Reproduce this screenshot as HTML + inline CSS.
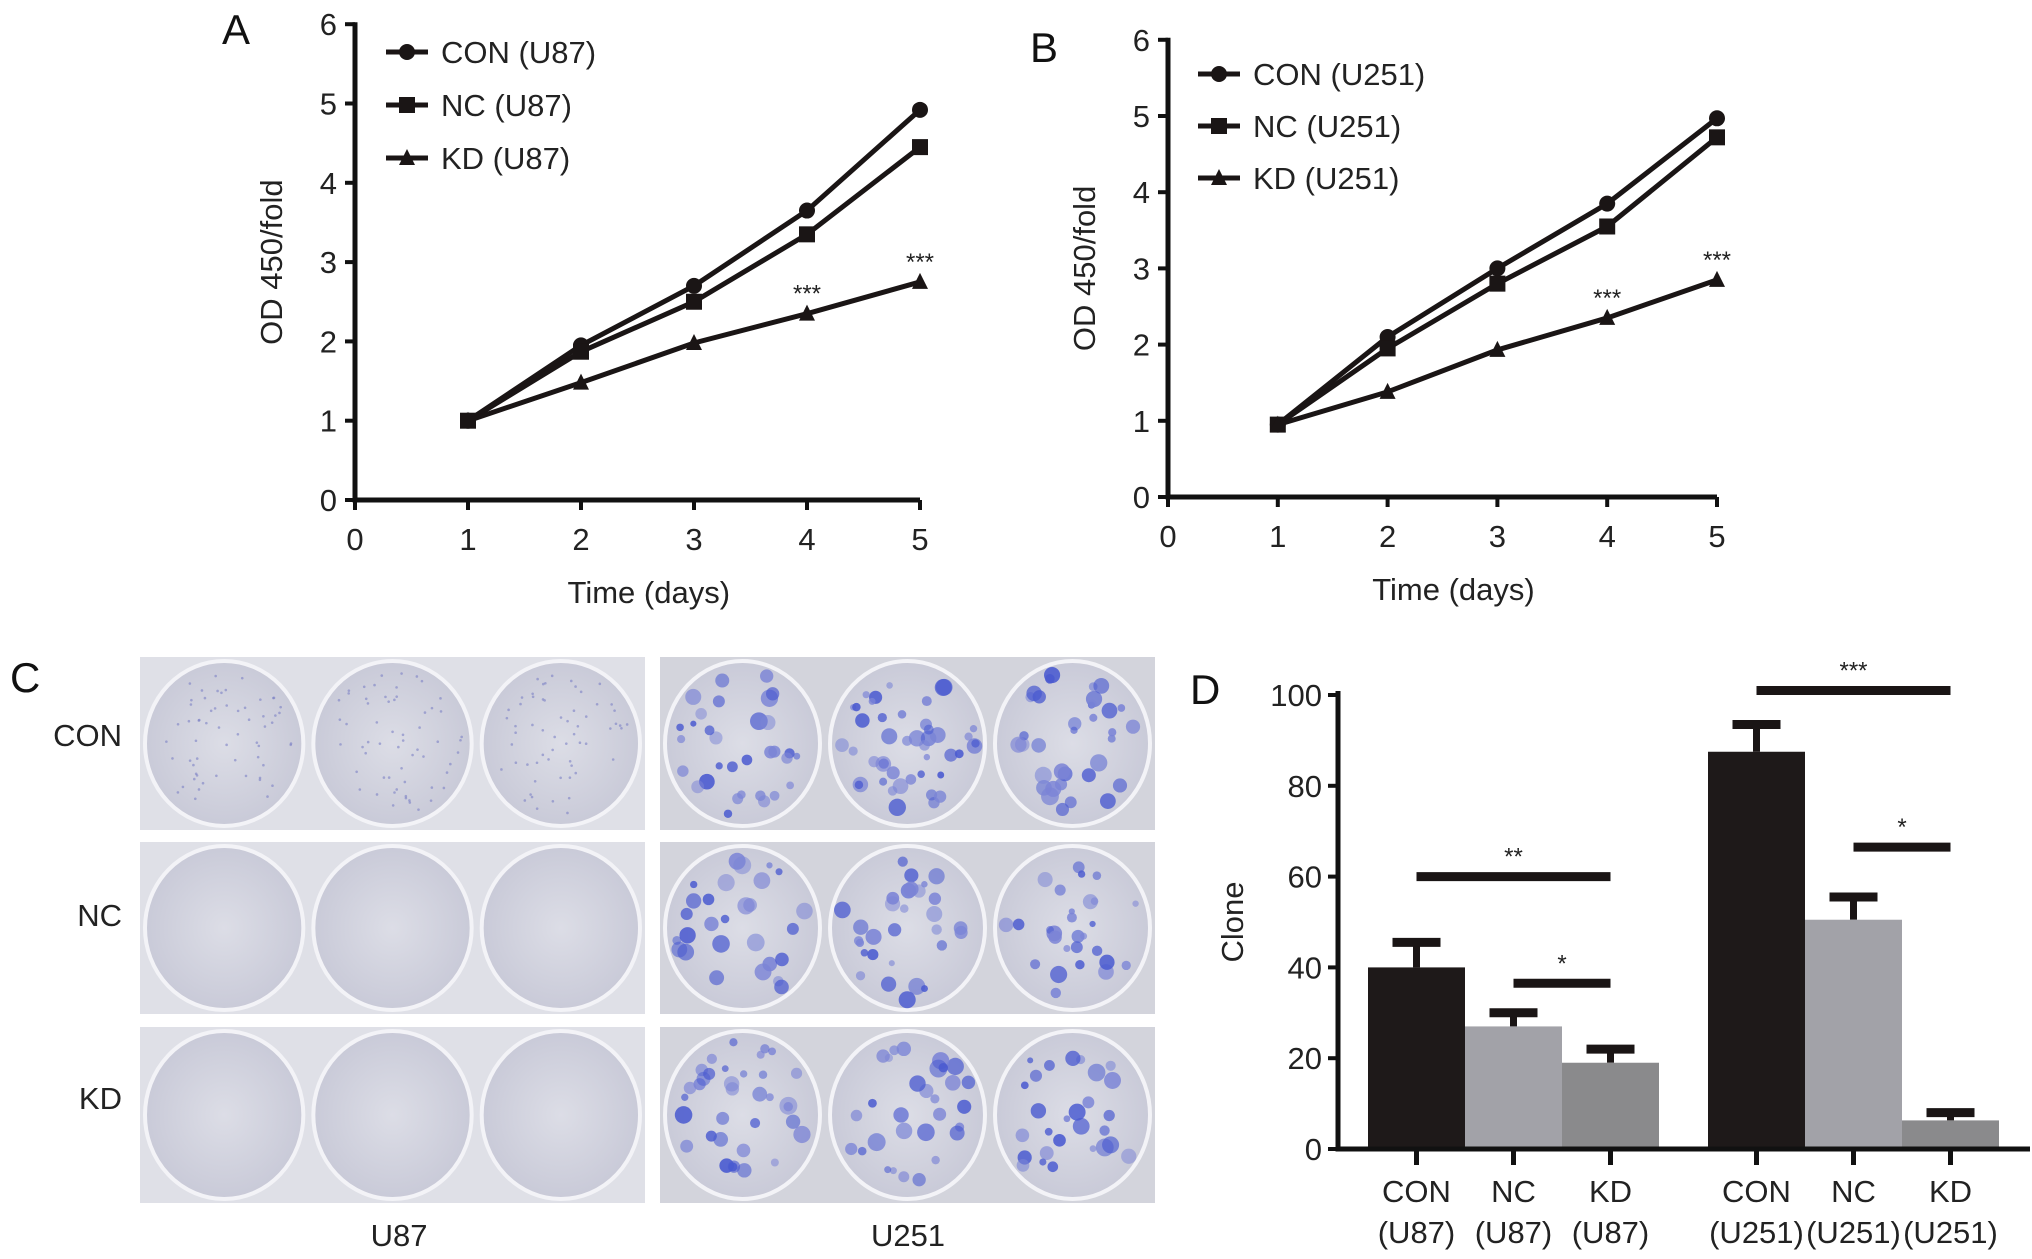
<!DOCTYPE html>
<html><head><meta charset="utf-8"><style>
html,body{margin:0;padding:0;background:#fff;}
svg{display:block;font-family:"Liberation Sans",Arial,sans-serif;}
</style></head><body>
<svg id="fig" width="2032" height="1259" viewBox="0 0 2032 1259" xmlns="http://www.w3.org/2000/svg">
<rect width="2032" height="1259" fill="#fff"/>
<g id="pA"></g>
<g id="pB"></g>
<g id="pC"></g>
<g id="pD"></g>
</svg>
<script>
const days = [1,2,3,4,5];
const aCON = [1,1.95,2.7,3.65,4.92];
const aNC = [1,1.87,2.5,3.35,4.45];
const aKD = [1,1.48,1.98,2.35,2.75];
const bCON = [0.95,2.1,3.0,3.85,4.97];
const bNC = [0.95,1.95,2.8,3.55,4.72];
const bKD = [0.95,1.38,1.93,2.35,2.85];
const xTicks = [0,1,2,3,4,5];
const yTicks = [0,1,2,3,4,5,6];
const dCats = ["CON|(U87)","NC|(U87)","KD|(U87)","CON|(U251)","NC|(U251)","KD|(U251)"];
const dVals = [40,27,19,87.5,50.5,6.3];
const dErr = [45.5,30,22,93.5,55.5,8];
const dTicks = [0,20,40,60,80,100];

const NS="http://www.w3.org/2000/svg";
function mk(p,tag,at,txt){const e=document.createElementNS(NS,tag);for(const k in at)e.setAttribute(k,at[k]);if(txt!==undefined)e.textContent=txt;p.appendChild(e);return e;}

function line(g,o,series,names){
  const X=v=>o.x0+v*o.dx, Y=v=>o.y0-v*o.dy;
  // axes
  let ax=mk(g,'path',{d:`M${o.x0} ${o.y0-6*o.dy-2}V${o.y0}H${X(5)}`,stroke:'#111',fill:'none','stroke-width':5});
  
  yTicks.forEach(t=>{mk(g,'line',{x1:o.x0-10,x2:o.x0,y1:Y(t),y2:Y(t),stroke:'#111','stroke-width':4});
    let tl=mk(g,'text',{x:o.x0-18,y:Y(t)+11,'text-anchor':'end','font-size':31,fill:'#222'},t);
    });
  xTicks.forEach(t=>{mk(g,'line',{x1:X(t),x2:X(t),y1:o.y0,y2:o.y0+10,stroke:'#111','stroke-width':4});
    let tl=mk(g,'text',{x:X(t),y:o.y0+50,'text-anchor':'middle','font-size':31,fill:'#222'},t);
    });
  let xt=mk(g,'text',{x:X(2.6),y:o.y0+103,'text-anchor':'middle','font-size':31,fill:'#222'},'Time (days)');
  
  let yt=mk(g,'text',{transform:`translate(${o.x0-73},${Y(3)}) rotate(-90)`,'text-anchor':'middle','font-size':31,fill:'#222'},'OD 450/fold');
  
  const shapes=['circle','square','triangle'];
  series.forEach((s,i)=>{
    let pl=mk(g,'polyline',{points:days.map((d,j)=>X(d)+','+Y(s[j])).join(' '),fill:'none',stroke:'#1a1515','stroke-width':5});
    
    days.forEach((d,j)=>marker(g,shapes[i],X(d),Y(s[j])));
  });
  // stars
  [4,5].forEach((d,k)=>{let st=mk(g,'text',{x:X(d),y:Y(series[2][k+3])-12,'text-anchor':'middle','font-size':24,fill:'#222'},'***');
    });
  // legend
  names.forEach((n,i)=>{const ly=o.ly+i*o.lsp;
    const lg=mk(g,'g',{});
    mk(lg,'line',{x1:o.lx,x2:o.lx+42,y1:ly,y2:ly,stroke:'#1a1515','stroke-width':5});
    marker(lg,shapes[i],o.lx+21,ly);
    mk(lg,'text',{x:o.lx+55,y:ly+11,'font-size':31,fill:'#222'},n);});
  let L=mk(g,'text',{x:o.letX,y:o.letY,'font-size':42,fill:'#111'},o.letter);
  
}
function marker(g,s,x,y){
  let m;
  if(s==='circle')m=mk(g,'circle',{cx:x,cy:y,r:8,fill:'#1a1515'});
  else if(s==='square')m=mk(g,'rect',{x:x-8,y:y-8,width:16,height:16,fill:'#1a1515'});
  else m=mk(g,'path',{d:`M${x} ${y-9}L${x+8} ${y+7}L${x-8} ${y+7}Z`,fill:'#1a1515'});
  
}
line(document.getElementById('pA'),{x0:355,y0:500,dx:113,dy:79.3,lx:386,ly:52,lsp:53,letter:'A',letX:222,letY:44},[aCON,aNC,aKD],['CON (U87)','NC (U87)','KD (U87)']);
line(document.getElementById('pB'),{x0:1168,y0:497,dx:109.8,dy:76.2,lx:1198,ly:74,lsp:52,letter:'B',letX:1030,letY:62},[bCON,bNC,bKD],['CON (U251)','NC (U251)','KD (U251)']);

// Panel C (photo imitation)
(function(){
  const g=document.getElementById('pC');
  const defs=mk(g,'defs',{});
  const rg=mk(defs,'radialGradient',{id:'dish'});
  mk(rg,'stop',{offset:'0%','stop-color':'#dcdde6'});mk(rg,'stop',{offset:'100%','stop-color':'#c9cad8'});
  let seed=7;const rnd=()=>{seed=(seed*16807)%2147483647;return seed/2147483647;};
  const blocks=[{x:140,w:505,cols:140},{x:660,w:495}];
  const rows=[[657,830],[842,1014],[1027,1203]];
  const density=[[0,0,0],[30,55,35],[0,0,0]];
  const dens2=[[32,45,35],[28,30,28],[35,30,28]];
  blocks.forEach((b,bi)=>rows.forEach((r,ri)=>{
    const bg=mk(g,'rect',{x:b.x,y:r[0],width:b.w,height:r[1]-r[0],fill:bi? '#d3d4dc':'#dfe0e7'});
    
    for(let k=0;k<3;k++){
      const cx=b.x+b.w*(k+0.5)/3, cy=(r[0]+r[1])/2, rx=b.w/6-5, ry=(r[1]-r[0])/2-4;
      const d=mk(g,'ellipse',{cx,cy,rx,ry,fill:'url(#dish)',stroke:'#f3f3f7','stroke-width':4});
      
      const n=bi?dens2[ri][k]:60;
      for(let q=0;q<n;q++){const a=rnd()*6.283,rr=Math.sqrt(rnd())*0.88;
        const px=cx+Math.cos(a)*rx*rr, py=cy+Math.sin(a)*ry*rr;
        if(bi) mk(g,'circle',{cx:px,cy:py,r:3+rnd()*6,fill:rnd()<0.5?'#4a5ad0':'#7b84d6',opacity:0.5+rnd()*0.4});
        else if(ri===0) mk(g,'circle',{cx:px,cy:py,r:1.3,fill:'#7c80c4',opacity:0.6});
      }
    }
  }));
  [['CON',746],['NC',926],['KD',1109]].forEach(([t,y])=>{let e=mk(g,'text',{x:122,y:y,'text-anchor':'end','font-size':31,fill:'#222'},t);
    });
  [['U87',399],['U251',908]].forEach(([t,x])=>{let e=mk(g,'text',{x:x,y:1246,'text-anchor':'middle','font-size':31,fill:'#222'},t);
    });
  let L=mk(g,'text',{x:10,y:692,'font-size':42,fill:'#111'},'C');
  
})();

// Panel D
(function(){
  const g=document.getElementById('pD');
  const x0=1338,y0=1149,dy=4.54;const Y=v=>y0-v*dy;
  const barX=[1368,1465,1562,1708,1805,1902], bw=97;
  const cols=['#1e1919','#a2a2a8','#8a8a8c','#1e1919','#a2a2a8','#8a8a8c'];
  dVals.forEach((v,i)=>{
    const cx=barX[i]+bw/2;
    let e=mk(g,'line',{x1:cx,x2:cx,y1:Y(dErr[i]),y2:Y(v),stroke:'#1a1515','stroke-width':7});
    
    let c=mk(g,'line',{x1:cx-24,x2:cx+24,y1:Y(dErr[i]),y2:Y(dErr[i]),stroke:'#1a1515','stroke-width':9});
    
    let b=mk(g,'rect',{x:barX[i],y:Y(v),width:bw,height:v*dy,fill:cols[i]});
    
    mk(g,'line',{x1:cx,x2:cx,y1:y0,y2:y0+16,stroke:'#111','stroke-width':5});
    const [a,bb]=dCats[i].split('|');
    let t=mk(g,'text',{x:cx,y:1202,'text-anchor':'middle','font-size':31,fill:'#222'},a);
    
    let t2=mk(g,'text',{x:cx,y:1243,'text-anchor':'middle','font-size':31,fill:'#222'},bb);
    
  });
  let ax=mk(g,'path',{d:`M${x0} ${Y(100)-4}V${y0}H2030`,stroke:'#111',fill:'none','stroke-width':5});
  
  dTicks.forEach(t=>{mk(g,'line',{x1:x0-10,x2:x0,y1:Y(t),y2:Y(t),stroke:'#111','stroke-width':4});
    let tl=mk(g,'text',{x:x0-16,y:Y(t)+11,'text-anchor':'end','font-size':31,fill:'#222'},t);
    });
  let yt=mk(g,'text',{transform:`translate(1243,${Y(50)}) rotate(-90)`,'text-anchor':'middle','font-size':31,fill:'#222'},'Clone');
  
  const sig=[[0,2,60,'**'],[1,2,36.5,'*'],[3,5,101,'***'],[4,5,66.5,'*']];
  sig.forEach(([a,b,v,s])=>{
    const xa=a===1?barX[1]+bw/2+0:barX[a]+bw/2, xb=barX[b]+bw/2;
    let l=mk(g,'line',{x1:xa,x2:xb,y1:Y(v),y2:Y(v),stroke:'#1a1515','stroke-width':9});
    
    let t=mk(g,'text',{x:(xa+xb)/2,y:Y(v)-12,'text-anchor':'middle','font-size':24,fill:'#222'},s);
    
  });
  let L=mk(g,'text',{x:1190,y:704,'font-size':42,fill:'#111'},'D');
  
})();
</script>
</body></html>
